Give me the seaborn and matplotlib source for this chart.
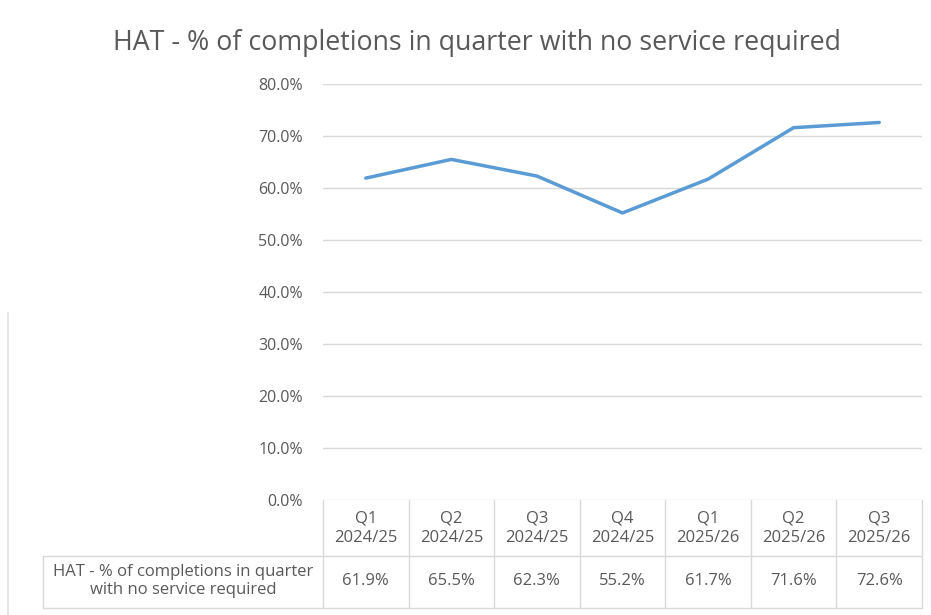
import matplotlib
matplotlib.use("Agg")
import matplotlib.pyplot as plt
import matplotlib.transforms as mtransforms
import seaborn as sns
import pandas as pd

quarters = ["Q1\n2024/25", "Q2\n2024/25", "Q3\n2024/25", "Q4\n2024/25",
            "Q1\n2025/26", "Q2\n2025/26", "Q3\n2025/26"]
values = [61.9, 65.5, 62.3, 55.2, 61.7, 71.6, 72.6]
series_name = "HAT - % of completions in quarter\nwith no service required"
title = "HAT - % of completions in quarter with no service required"
y_ticks = [0, 10, 20, 30, 40, 50, 60, 70, 80]

sns.set_theme(style="white")
plt.rcParams['font.family'] = ['Open Sans', 'DejaVu Sans']

W, H = 931, 615
fig = plt.figure(figsize=(W / 100, H / 100), dpi=100)
left, right, top, bottom = 323, 922, 84, 500
ax = fig.add_axes([left / W, 1 - bottom / H, (right - left) / W, (bottom - top) / H])

df = pd.DataFrame({"x": range(len(quarters)), "v": values})
sns.lineplot(data=df, x="x", y="v", ax=ax, color="#5B9BD5", linewidth=2.5, legend=False)

ax.set_xlim(-0.5, len(quarters) - 0.5)
ax.set_ylim(0, 80)
ax.set_yticks(y_ticks)
ax.set_yticklabels([f"{t:.1f}%" for t in y_ticks], color="#595959", fontsize=11.5)
ax.tick_params(axis="y", length=0, pad=14.5)
ax.set_xticks([])
ax.set_xlabel("")
ax.set_ylabel("")
for s in ax.spines.values():
    s.set_visible(False)
ax.grid(axis="y", color="#D9D9D9", linewidth=1)
ax.set_axisbelow(True)

fig.text(477 / W, 1 - 43 / H, title, ha="center", va="center", fontsize=19.3, color="#595959")

# data table below the axes
trans = mtransforms.blended_transform_factory(ax.transData, fig.transFigure)
fy = lambda py: 1 - py / H
grid_c = "#D9D9D9"
row1, row2, row3 = 500, 556, 608
lab_left = 43
for i in range(len(quarters) + 1):
    ax.plot([i - 0.5, i - 0.5], [fy(row1), fy(row3)], transform=trans, color=grid_c,
            lw=1, clip_on=False)
for py in (row2, row3):
    fig.add_artist(plt.Line2D([lab_left / W, right / W], [fy(py), fy(py)], color=grid_c, lw=1))
fig.add_artist(plt.Line2D([lab_left / W, lab_left / W], [fy(row2), fy(row3)], color=grid_c, lw=1))
fig.add_artist(plt.Line2D([8 / W, 8 / W], [fy(313), fy(615)], color="#E0E0E0", lw=1.2))

for i, (q, v) in enumerate(zip(quarters, values)):
    ax.text(i, fy((row1 + row2) / 2), q, transform=trans, ha="center", va="center",
            fontsize=12, color="#595959", linespacing=1.3)
    ax.text(i, fy((row2 + row3) / 2 - 1), f"{v:.1f}%", transform=trans, ha="center",
            va="center", fontsize=12, color="#595959")
fig.text((lab_left + left) / 2 / W, fy((row2 + row3) / 2 - 1), series_name, ha="center",
         va="center", fontsize=12, color="#595959", linespacing=1.1)

fig.savefig("out.png", dpi=100)
